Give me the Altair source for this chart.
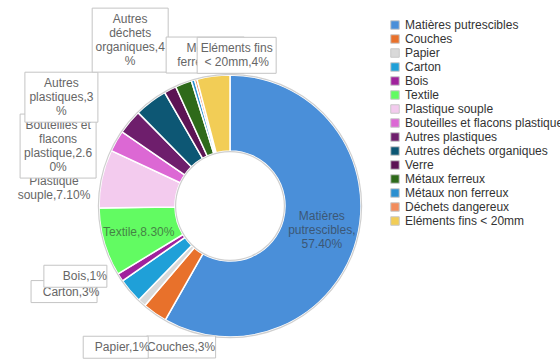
import math

import altair as alt
import pandas as pd

# Household waste composition (share of total mass, %)
categories = [
    "Matières putrescibles",
    "Couches",
    "Papier",
    "Carton",
    "Bois",
    "Textile",
    "Plastique souple",
    "Bouteilles et flacons plastique",
    "Autres plastiques",
    "Autres déchets organiques",
    "Verre",
    "Métaux ferreux",
    "Métaux non ferreux",
    "Déchets dangereux",
    "Eléments fins < 20mm",
]
values = [57.4, 3, 1, 3, 1, 8.3, 7.1, 2.6, 3, 4, 1.5, 2, 0.4, 0.3, 4]
colors = [
    "#4a8fd9", "#e8712b", "#d9d9d9", "#1fa0d8", "#a0229c",
    "#62fb62", "#f3cbee", "#dc68d4", "#6e1e6c", "#0d5774",
    "#5c1454", "#2e6a1a", "#2b8fd0", "#f28c5c", "#f2cd56",
]

# Labels drawn inside the ring
inner_labels = {
    "Matières putrescibles": "Matières\nputrescibles,\n57.40%",
    "Textile": "Textile,8.30%",
}
# Labels drawn outside the ring, in drawing order (later ones on top)
outer_labels = {
    "Couches": "Couches,3%",
    "Papier": "Papier,1%",
    "Carton": "Carton,3%",
    "Bois": "Bois,1%",
    "Plastique souple": "Plastique\nsouple,7.10%",
    "Bouteilles et flacons plastique": "Bouteilles et\nflacons\nplastique,2.6\n0%",
    "Autres plastiques": "Autres\nplastiques,3\n%",
    "Autres déchets organiques": "Autres\ndéchets\norganiques,4\n%",
    "Métaux ferreux": "Métaux\nferreux,2%",
    "Eléments fins < 20mm": "Eléments fins\n< 20mm,4%",
}

# Layout of the outside callouts: nudge from the radial anchor, box width,
# horizontal shift of the box relative to its text (0 width = no box)
CX, CY = 230, 206
R_OUT, R_IN = 131, 55
R_ANCHOR = 160
LINE_H = 14
callout_layout = {
    "Couches": (43, 10, 69, 0),
    "Papier": (0, 23, 65, -6.5),
    "Carton": (-37, -18, 66, -7),
    "Bois": (-11, -17, 63, -9.5),
    "Plastique souple": (-19.5, 15, 0, 0),
    "Bouteilles et flacons plastique": (-33, 19.5, 76, 0),
    "Autres plastiques": (-46, -6, 73, 0),
    "Autres déchets organiques": (-3, -38.5, 76, 0),
    "Métaux ferreux": (33, -1.4, 78, -1),
    "Eléments fins < 20mm": (27, 8, 79, 0),
}

df = pd.DataFrame({"cat": categories, "value": values, "idx": range(len(categories))})

# Radial anchors of the outside labels, from each slice's mid-angle
total = float(sum(values))
mids = {}
acc = 0.0
for c, v in zip(categories, values):
    mids[c] = (acc + v / 2) / total * 2 * math.pi
    acc += v

callouts = []
for c, txt in outer_labels.items():
    dx, dy, bw, bdx = callout_layout[c]
    a = mids[c]
    tx = CX + R_ANCHOR * math.sin(a) + dx
    ty = CY - R_ANCHOR * math.cos(a) + dy
    n = txt.count("\n") + 1
    bh = LINE_H * n + 8
    # multi-line text is anchored on its first line: lift it by half the block
    callouts.append(dict(cat=c, text=txt, tx=tx, ty=ty - (n - 1) * LINE_H / 2,
                         x1=tx + bdx - bw / 2, x2=tx + bdx + bw / 2,
                         y1=ty - bh / 2, y2=ty + bh / 2, bw=bw))

FONT = "Liberation Sans"

color_scale = alt.Scale(domain=categories, range=colors)

donut = alt.Chart(df).mark_arc(
    outerRadius=R_OUT, innerRadius=R_IN, stroke="white", strokeWidth=1.5
).encode(
    theta=alt.Theta("value:Q", stack=True),
    order=alt.Order("idx:Q"),
    color=alt.Color(
        "cat:N",
        scale=color_scale,
        sort=categories,
        legend=alt.Legend(
            title=None,
            orient="none",
            legendX=389,
            legendY=19,
            symbolType="square",
            symbolSize=72,
            symbolStrokeColor="#c8c8c8",
            symbolStrokeWidth=1,
            labelFont=FONT,
            labelFontSize=12,
            labelColor="#333333",
            labelLimit=400,
            rowPadding=0,
            labelOffset=4,
        ),
    ),
    x=alt.value(CX),
    y=alt.value(CY),
)

# thin grey outlines along the ring edges
ring_base = alt.Chart(df.head(1))
outer_edge = ring_base.mark_arc(
    innerRadius=R_OUT, outerRadius=R_OUT + 1.2, color="#cfcfcf"
).encode(theta=alt.value(0), theta2=alt.value(2 * math.pi), x=alt.value(CX), y=alt.value(CY))
inner_edge = ring_base.mark_arc(
    innerRadius=R_IN - 1.2, outerRadius=R_IN, color="#cfcfcf"
).encode(theta=alt.value(0), theta2=alt.value(2 * math.pi), x=alt.value(CX), y=alt.value(CY))

layers = [donut, outer_edge, inner_edge]

# in-ring labels, placed at each slice's mid-angle on the middle of the ring
for c, txt in inner_labels.items():
    n = txt.count("\n") + 1
    dfi = df.copy()
    dfi["label"] = [txt if k == c else "" for k in categories]
    layers.append(
        alt.Chart(dfi).mark_text(
            font=FONT, fontSize=12, color="#333333", opacity=0.6,
            lineBreak="\n", lineHeight=LINE_H, align="center", baseline="middle",
            dy=-(n - 1) * LINE_H / 2,
        ).encode(
            theta=alt.Theta("value:Q", stack=True),
            order=alt.Order("idx:Q"),
            radius=alt.value((R_OUT + R_IN) / 2 + 2),
            text="label:N",
            x=alt.value(CX),
            y=alt.value(CY),
        )
    )

for row in callouts:
    src = alt.Chart(pd.DataFrame([row]))
    if row["bw"] > 0:
        layers.append(
            src.mark_rect(fill="white", stroke="#c4c4c4", strokeWidth=1).encode(
                x=alt.X("x1:Q", scale=None),
                x2="x2:Q",
                y=alt.Y("y1:Q", scale=None),
                y2="y2:Q",
            )
        )
    layers.append(
        src.mark_text(
            font=FONT, fontSize=12, color="#666666",
            lineBreak="\n", lineHeight=LINE_H, align="center", baseline="middle",
        ).encode(
            x=alt.X("tx:Q", scale=None),
            y=alt.Y("ty:Q", scale=None),
            text="text:N",
        )
    )

chart = alt.layer(*layers).properties(
    width=560,
    height=360,
    autosize=alt.AutoSizeParams(type="none"),
    padding=0,
    background="white",
).configure_view(stroke=None)

chart.save("out.html", embed_options={"renderer": "svg", "actions": False})
